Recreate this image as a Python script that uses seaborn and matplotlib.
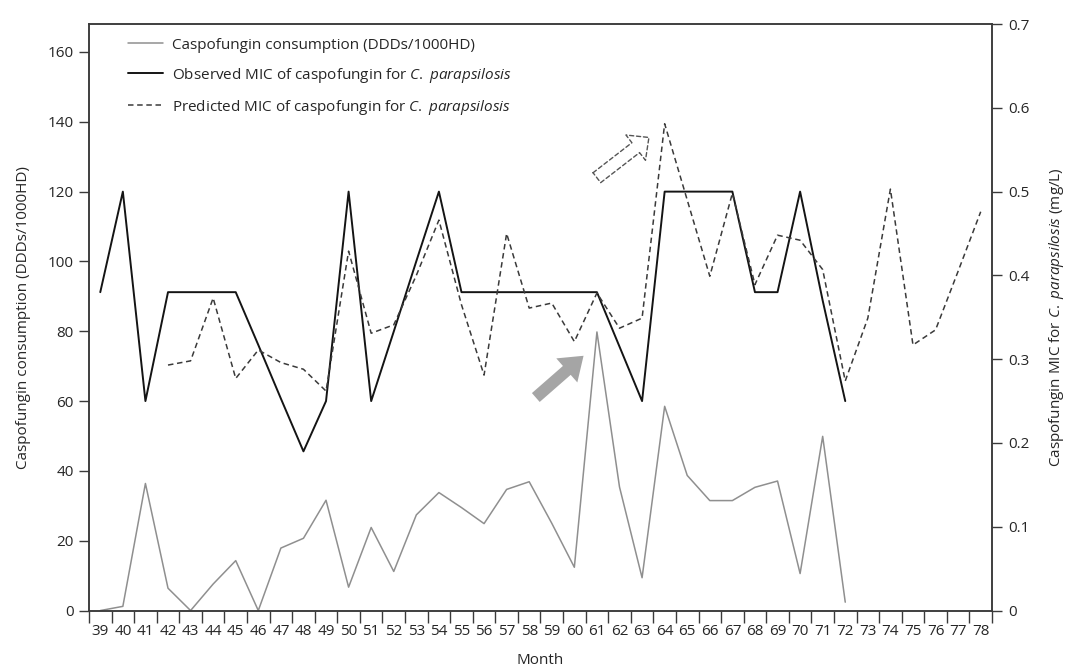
"""
Caspofungin consumption vs observed / predicted MIC for C. parapsilosis
"""
import numpy as np
import pandas as pd
import matplotlib
matplotlib.use("Agg")
import matplotlib.pyplot as plt
from matplotlib.patches import FancyArrowPatch
from matplotlib.ticker import FuncFormatter
import seaborn as sns

sns.set_style("ticks")
plt.rcParams["font.family"] = ["Open Sans", "DejaVu Sans"]
plt.rcParams["mathtext.fontset"] = "custom"
plt.rcParams["mathtext.rm"] = "Open Sans"
plt.rcParams["mathtext.it"] = "Open Sans:italic"

# ── data ─────────────────────────────────────────────────────
months = list(range(39, 79))

cons_months = list(range(39, 73))
consumption = [0, 1.2, 36.4, 6.4, 0, 7.6, 14.3, 0, 17.9, 20.7, 31.6, 6.7, 23.8,
               11.2, 27.4, 33.8, 29.5, 24.9, 34.7, 36.9, 25.0, 12.4, 79.8, 35.4,
               9.4, 58.5, 38.7, 31.5, 31.5, 35.3, 37.1, 10.6, 49.9, 2.4]

obs_months = list(range(39, 73))
observed_mic = [0.38, 0.5, 0.25, 0.38, 0.38, 0.38, 0.38, 0.317, 0.253, 0.19,
                0.25, 0.5, 0.25, 0.333, 0.417, 0.5, 0.38, 0.38, 0.38, 0.38,
                0.38, 0.38, 0.38, 0.315, 0.25, 0.5, 0.5, 0.5, 0.5, 0.38, 0.38,
                0.5, 0.37, 0.25]

pred_months = list(range(42, 79))
predicted_mic = [0.293, 0.298, 0.373, 0.277, 0.311, 0.296, 0.288, 0.262, 0.429,
                 0.331, 0.341, 0.40, 0.466, 0.365, 0.281, 0.45, 0.361, 0.367,
                 0.321, 0.379, 0.337, 0.349, 0.581, 0.49, 0.399, 0.498, 0.389,
                 0.448, 0.442, 0.407, 0.274, 0.349, 0.503, 0.317, 0.335, 0.405,
                 0.476]

CP = r"$\it{C.}$ $\it{parapsilosis}$"
lbl_cons = "Caspofungin consumption (DDDs/1000HD)"
lbl_obs = "Observed MIC of caspofungin for " + CP
lbl_pred = "Predicted MIC of caspofungin for " + CP

df_cons = pd.DataFrame({"month": cons_months, "value": consumption})
df_obs = pd.DataFrame({"month": obs_months, "value": observed_mic})
df_pred = pd.DataFrame({"month": pred_months, "value": predicted_mic})

TXT = "#262626"
SPINE = "#3a3a3a"

fig = plt.figure(figsize=(10.67, 6.68), dpi=100)
ax = fig.add_axes([0.0834, 0.086, 0.8463, 0.878])
ax2 = ax.twinx()

sns.lineplot(data=df_cons, x="month", y="value", ax=ax, color="#8f8f8f",
             linewidth=1.1, legend=False)
sns.lineplot(data=df_obs, x="month", y="value", ax=ax2, color="#141414",
             linewidth=1.4, legend=False)
sns.lineplot(data=df_pred, x="month", y="value", ax=ax2, color="#3a3a3a",
             linewidth=1.1, legend=False, dashes=False)
ax2.lines[1].set_dashes((3.6, 2.4))

# ── axes ─────────────────────────────────────────────────────
ax.set_xlim(38.5, 78.5)
ax.set_ylim(0, 168)
ax2.set_ylim(0, 0.7)

ax.set_xticks(months)
ax.set_xticklabels([str(m) for m in months])
ax.set_xticks(np.arange(38.5, 79, 1.0), minor=True)
ax.tick_params(axis="x", which="major", length=0, pad=10, labelsize=11, colors=TXT)
ax.tick_params(axis="x", which="minor", length=8.5, width=1.0, color=SPINE)

ax.set_yticks(range(0, 161, 20))
ax.tick_params(axis="y", length=7, width=1.0, color=SPINE, labelsize=11,
               labelcolor=TXT, pad=4)
ax2.set_yticks(np.arange(0, 0.71, 0.1))
ax2.yaxis.set_major_formatter(FuncFormatter(lambda v, p: "0" if abs(v) < 1e-9 else f"{v:.1f}"))
ax2.tick_params(axis="y", length=7, width=1.0, color=SPINE, labelsize=11,
                labelcolor=TXT, pad=5)

for a in (ax, ax2):
    for s in a.spines.values():
        s.set_color(SPINE)
        s.set_linewidth(1.1)

ax.set_xlabel("Month", fontsize=11, color=TXT, labelpad=10)
ax.set_ylabel(lbl_cons, fontsize=11, color=TXT, labelpad=12)
ax2.set_ylabel("Caspofungin MIC for " + CP + " (mg/L)", fontsize=11,
               color=TXT, labelpad=12)

# ── legend ───────────────────────────────────────────────────
handles = [ax.lines[0], ax2.lines[0], ax2.lines[1]]
ax2.legend(handles, [lbl_cons, lbl_obs, lbl_pred], loc="upper left",
           bbox_to_anchor=(0.028, 1.0), frameon=False, fontsize=11,
           handlelength=2.3, handletextpad=0.55, labelspacing=0.85,
           labelcolor=TXT)

# ── arrows ───────────────────────────────────────────────────
solid_arrow = FancyArrowPatch(posA=(58.2, 60.5), posB=(60.5, 73.5),
                              arrowstyle="simple,head_length=1.6,head_width=2.3,tail_width=0.85",
                              mutation_scale=10, color="#a5a5a5", lw=0,
                              transform=ax.transData, zorder=5)
ax.add_patch(solid_arrow)
hollow_arrow = FancyArrowPatch(posA=(60.9, 123.5), posB=(63.4, 136.0),
                               arrowstyle="simple,head_length=1.2,head_width=2.3,tail_width=0.9",
                               mutation_scale=10, fill=False, edgecolor="#555555",
                               lw=1.0, linestyle=(0, (3, 2)),
                               transform=ax.transData, zorder=5)
ax.add_patch(hollow_arrow)

fig.savefig("out.png", dpi=100)
